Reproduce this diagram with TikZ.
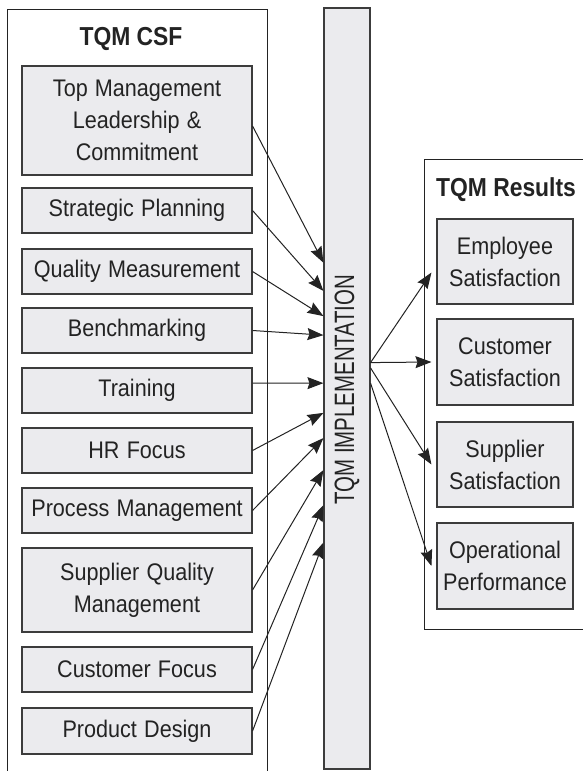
\documentclass[tikz,border=0pt]{standalone}
\usepackage{fontspec}
\setmainfont{Liberation Sans}
\usetikzlibrary{arrows.meta,calc}
\definecolor{boxfill}{RGB}{235,235,238}
\definecolor{edge}{RGB}{60,60,60}
\definecolor{ink}{RGB}{35,35,35}
% narrow a line of text horizontally
\newcommand{\narrowline}[2][0.9]{\scalebox{#1}[1]{#2}}

\begin{document}
\begin{tikzpicture}[x=1pt,y=-1pt,
  frame/.style={draw=ink, line width=0.9pt},
  factor/.style={draw=edge, line width=1.1pt, fill=boxfill, text=ink,
    minimum width=230pt, text width=226pt, align=center, inner sep=0pt,
    font=\fontsize{24}{32}\selectfont},
  result/.style={factor, minimum width=136pt, text width=132pt},
  heading/.style={text=ink, inner sep=0pt, font=\bfseries\fontsize{26}{30}\selectfont},
  link/.style={draw=ink, line width=1pt, -{Stealth[length=16pt,width=12pt,inset=2pt]}}]

\useasboundingbox (0,0) rectangle (583,771);

% outer frames
\draw[frame] (7,771) -- (7,9) -- (267,9) -- (267,771);
\draw[frame] (583,159) -- (424,159) -- (424,629) -- (583,629);

% headings
\node[heading] (csf) at (131,39) {\narrowline[0.88]{TQM CSF}};
\node[heading] (res) at (506,190) {\narrowline[0.88]{TQM Results}};

% critical success factors
\node[factor, minimum height=109pt] (b1) at (137,120.5) {\narrowline{Top Management}\\\narrowline{Leadership \&}\\\narrowline{Commitment}};
\node[factor, minimum height=45pt] (b2) at (137,210.5) {\narrowline{Strategic Planning}};
\node[factor, minimum height=45pt] (b3) at (137,271.5) {\narrowline{Quality Measurement}};
\node[factor, minimum height=45pt] (b4) at (137,330.5) {\narrowline{Benchmarking}};
\node[factor, minimum height=45pt] (b5) at (137,390.5) {\narrowline{Training}};
\node[factor, minimum height=45pt] (b6) at (137,450.5) {\narrowline{HR Focus}};
\node[factor, minimum height=45pt] (b7) at (137,510.5) {\narrowline{Process Management}};
\node[factor, minimum height=84pt] (b8) at (137,590) {\narrowline{Supplier Quality}\\\narrowline{Management}};
\node[factor, minimum height=45pt] (b9) at (137,669.5) {\narrowline{Customer Focus}};
\node[factor, minimum height=46pt] (b10) at (137,731) {\narrowline{Product Design}};

% implementation column
\node[draw=edge, line width=1.1pt, fill=boxfill, minimum width=46pt,
  minimum height=761pt, inner sep=0pt] (impl) at (347,388.5) {};
\node[rotate=90, text=ink, inner sep=0pt,
  font=\fontsize{28}{30}\selectfont] (impltext) at (347,390) {\narrowline[0.73]{TQM IMPLEMENTATION}};

% results
\node[result, minimum height=85pt] (r1) at (505,261.5) {\narrowline{Employee}\\\narrowline{Satisfaction}};
\node[result, minimum height=86pt] (r2) at (505,362) {\narrowline{Customer}\\\narrowline{Satisfaction}};
\node[result, minimum height=85pt] (r3) at (505,464.5) {\narrowline{Supplier}\\\narrowline{Satisfaction}};
\node[result, minimum height=86pt] (r4) at (505,566) {\narrowline{Operational}\\\narrowline{Performance}};

% factors feeding the implementation
\draw[link] ([yshift=-5.5pt]b1.east) -- ($(impl.north west)!0.335!(impl.south west)$);
\draw[link] (b2.east) -- ($(impl.north west)!0.372!(impl.south west)$);
\draw[link] (b3.east) -- ($(impl.north west)!0.405!(impl.south west)$);
\draw[link] (b4.east) -- ($(impl.north west)!0.430!(impl.south west)$);
\draw[link] ([yshift=7.5pt]b5.east) -- ($(impl.north west)!0.493!(impl.south west)$);
\draw[link] (b6.east) -- ($(impl.north west)!0.532!(impl.south west)$);
\draw[link] (b7.east) -- ($(impl.north west)!0.565!(impl.south west)$);
\draw[link] (b8.east) -- ($(impl.north west)!0.607!(impl.south west)$);
\draw[link] (b9.east) -- ($(impl.north west)!0.653!(impl.south west)$);
\draw[link] (b10.east) -- ($(impl.north west)!0.702!(impl.south west)$);

% implementation leading to results
\draw[link] ($(impl.north east)!0.466!(impl.south east)$) -- ([xshift=-5pt,yshift=-11pt]r1.west);
\draw[link] ($(impl.north east)!0.466!(impl.south east)$) -- ([xshift=-5pt]r2.west);
\draw[link] ($(impl.north east)!0.473!(impl.south east)$) -- ([xshift=-5pt]r3.west);
\draw[link] ($(impl.north east)!0.493!(impl.south east)$) -- ([xshift=-5pt]r4.west);
\end{tikzpicture}
\end{document}
